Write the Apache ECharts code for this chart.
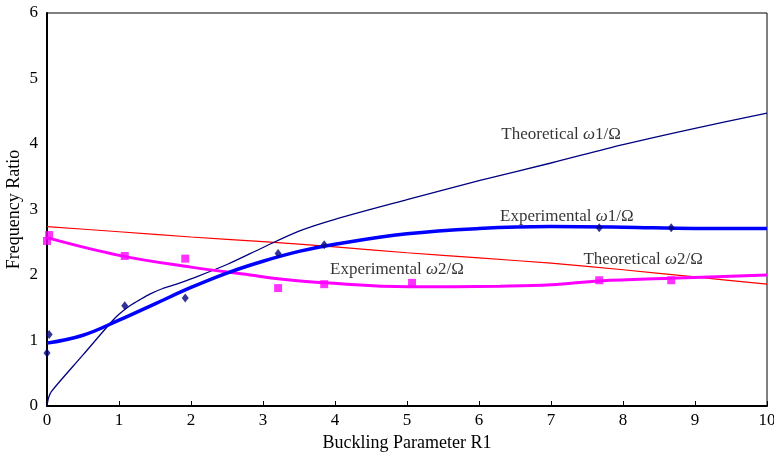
<!DOCTYPE html>
<html>
<head>
<meta charset="utf-8">
<script src="https://cdn.jsdelivr.net/npm/echarts@6/dist/echarts.min.js"></script>
<style>
  html, body { margin: 0; padding: 0; background: #fff; }
  #chart { width: 774px; height: 452px; }
</style>
</head>
<body>
<div id="chart"></div>
<script>
// Measured frequency ratios (ω/Ω) against buckling parameter R1
const expR1 = [0, 0.03, 1.08, 1.92, 3.21, 3.85, 7.67, 8.67];
const expW1 = [0.81, 1.09, 1.53, 1.65, 2.33, 2.46, 2.72, 2.72];
const expR2 = [0, 0.03, 1.08, 1.92, 3.21, 3.85, 5.07, 7.67, 8.67];
const expW2 = [2.52, 2.61, 2.29, 2.25, 1.80, 1.86, 1.88, 1.92, 1.92];

// Fitted trend of the measurements
const fitR1 = [0, 0.5, 1, 1.5, 2, 2.5, 3, 3.5, 4, 5, 6, 7, 8, 9, 10];
const fitW1 = [0.96, 1.08, 1.31, 1.56, 1.81, 2.03, 2.21, 2.36, 2.47, 2.63, 2.71, 2.74, 2.73, 2.71, 2.71];
const fitR2 = [0, 1, 2, 2.82, 3.24, 3.86, 5.04, 6.29, 7, 7.68, 8.65, 10];
const fitW2 = [2.57, 2.30, 2.12, 2.00, 1.94, 1.88, 1.82, 1.83, 1.85, 1.91, 1.95, 2.00];

// Theoretical predictions
const thR1 = [0, 0.02, 0.06, 0.5, 0.9, 1.0, 1.15, 1.3, 1.45, 1.6, 1.8, 2, 2.5, 3, 3.5, 4, 5, 6, 7, 8, 9, 10];
const thW1 = [0, 0.12, 0.22, 0.78, 1.29, 1.40, 1.53, 1.63, 1.72, 1.79, 1.86, 1.94, 2.16, 2.42, 2.67, 2.85, 3.15, 3.44, 3.71, 3.99, 4.24, 4.47];
const thR2 = [0, 1, 2, 3, 4, 5, 6, 7, 8, 9, 10];
const thW2 = [2.74, 2.66, 2.58, 2.51, 2.43, 2.34, 2.26, 2.18, 2.08, 1.97, 1.86];

// Curve captions: [R1, ratio, index, kind]
const captions = [
  [7.14, 4.15, '1', 'Theoretical'],
  [7.22, 2.90, '1', 'Experimental'],
  [4.86, 2.08, '2', 'Experimental'],
  [8.28, 2.23, '2', 'Theoretical']
];

const xTicks = [0, 1, 2, 3, 4, 5, 6, 7, 8, 9, 10];
const yTicks = [0, 1, 2, 3, 4, 5, 6];

const zip = (xs, ys) => xs.map((x, i) => [x, ys[i]]);
const FONT = '"Liberation Serif", "Times New Roman", serif';

const chart = echarts.init(document.getElementById('chart'));
chart.setOption({
  animation: false,
  backgroundColor: '#fff',
  textStyle: { fontFamily: FONT, color: '#000' },
  grid: {
    left: 47, right: 7, top: 13, bottom: 46,
    containLabel: false, outerBoundsMode: 'none',
    show: true, borderColor: '#000', borderWidth: 1, backgroundColor: 'transparent'
  },
  xAxis: {
    type: 'value', min: xTicks[0], max: xTicks[xTicks.length - 1], interval: 1,
    name: 'Buckling Parameter R1', nameLocation: 'middle', nameGap: 28,
    nameTextStyle: { fontFamily: FONT, fontSize: 18, color: '#000' },
    axisLine: { show: true, lineStyle: { color: '#000', width: 2 } },
    axisTick: { show: true, inside: true, length: 5, lineStyle: { color: '#000', width: 1 } },
    axisLabel: { fontFamily: FONT, fontSize: 17, color: '#000', margin: 6 },
    splitLine: { show: false }
  },
  yAxis: {
    type: 'value', min: yTicks[0], max: yTicks[yTicks.length - 1], interval: 1,
    name: 'Frequency Ratio', nameLocation: 'middle', nameGap: 24, nameRotate: 90,
    nameMoveOverlap: false,
    nameTextStyle: { fontFamily: FONT, fontSize: 18, color: '#000' },
    axisLine: { show: true, lineStyle: { color: '#000', width: 2 } },
    axisTick: { show: false },
    axisLabel: { fontFamily: FONT, fontSize: 17, color: '#000', margin: 9 },
    splitLine: { show: false }
  },
  series: [
    {
      name: 'Theoretical ω2/Ω', type: 'line', data: zip(thR2, thW2),
      smooth: 0.3, showSymbol: false, lineStyle: { color: '#ff0000', width: 1.2 }, z: 2
    },
    {
      name: 'Theoretical ω1/Ω', type: 'line', data: zip(thR1, thW1),
      smooth: 0.3, showSymbol: false, lineStyle: { color: '#000080', width: 1.3 }, z: 2
    },
    {
      name: 'Experimental ω2/Ω fit', type: 'line', data: zip(fitR2, fitW2),
      smooth: 0.4, showSymbol: false, lineStyle: { color: '#ff00ff', width: 3 }, z: 3
    },
    {
      name: 'Experimental ω1/Ω fit', type: 'line', data: zip(fitR1, fitW1),
      smooth: 0.4, showSymbol: false, lineStyle: { color: '#0000ff', width: 3.5 }, z: 3
    },
    {
      name: 'Experimental ω2/Ω', type: 'scatter', data: zip(expR2, expW2),
      symbol: 'rect', symbolSize: 8, itemStyle: { color: '#ff00ff' }, z: 4
    },
    {
      name: 'Experimental ω1/Ω', type: 'scatter', data: zip(expR1, expW1),
      symbol: 'diamond', symbolSize: [7, 9], itemStyle: { color: '#000080' }, z: 5
    },
    {
      name: 'captions', type: 'scatter', symbolSize: 0, silent: true, z: 6,
      data: captions.map(c => ({ value: [c[0], c[1]], idx: c[2], kind: c[3] })),
      label: {
        show: true, position: 'inside',
        formatter: p => '{n|' + p.data.kind + ' }{w|ω}{n|' + p.data.idx + '/Ω}',
        rich: {
          n: { fontFamily: FONT, fontSize: 17, color: '#000' },
          w: { fontFamily: FONT, fontSize: 17, fontStyle: 'italic', color: '#000' }
        }
      }
    }
  ]
});
</script>
</body>
</html>
